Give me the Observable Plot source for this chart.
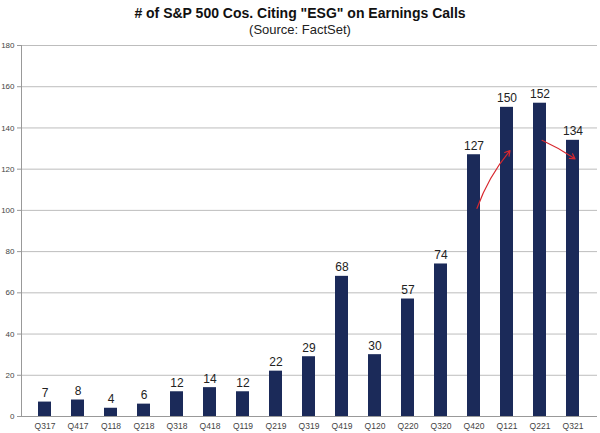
<!DOCTYPE html>
<html>
<head>
<meta charset="utf-8">
<script src="https://cdn.jsdelivr.net/npm/d3@7"></script>
<script src="https://cdn.jsdelivr.net/npm/@observablehq/plot@0.6"></script>
<style>
  html, body { margin: 0; padding: 0; background: #fff; }
  #wrap { width: 600px; height: 433px; font-family: "Liberation Sans", Arial, sans-serif; }
  #head { height: 38px; text-align: center; color: #111; }
  #title { font-size: 14px; font-weight: bold; line-height: 17px; padding-top: 5px; }
  #sub { font-size: 13px; line-height: 15px; color: #222; }
</style>
</head>
<body>
<div id="wrap">
  <div id="head">
    <div id="title"># of S&amp;P 500 Cos. Citing "ESG" on Earnings Calls</div>
    <div id="sub">(Source: FactSet)</div>
  </div>
  <div id="chart"></div>
</div>
<script>
const quarters = ["Q317","Q417","Q118","Q218","Q318","Q418","Q119","Q219","Q319","Q419","Q120","Q220","Q320","Q420","Q121","Q221","Q321"];
const counts = [7, 8, 4, 6, 12, 14, 12, 22, 29, 68, 30, 57, 74, 127, 150, 152, 134];
const yTicks = [0, 20, 40, 60, 80, 100, 120, 140, 160, 180];
const arrowFrom = ["Q420", "Q221"];
const arrowTo = ["Q121", "Q321"];
const arrowStart = [101, 134];
const arrowEnd = [129, 125];
const arrowBend = [10, 5];

const data = quarters.map((q, i) => ({q, v: counts[i]}));
const arrows = arrowFrom.map((a, i) => ({a, b: arrowTo[i], y1: arrowStart[i], y2: arrowEnd[i]}));

const plot = Plot.plot({
  width: 600,
  height: 395,
  marginTop: 7,
  marginBottom: 17,
  marginLeft: 21,
  marginRight: 3,
  style: {fontFamily: "Liberation Sans, Arial, sans-serif", background: "#fff"},
  x: {domain: quarters, paddingInner: 0.6, paddingOuter: 0.3, label: null},
  y: {domain: [0, 180], label: null},
  marks: [
    Plot.gridY(yTicks, {stroke: "#bdbdbd", strokeOpacity: 1, strokeWidth: 1}),
    Plot.axisY({ticks: yTicks, tickSize: 4, tickPadding: 3, fontSize: 8, fill: "#444", stroke: "#999", label: null}),
    Plot.axisX({tickSize: 0, tickPadding: 6, fontSize: 8.5, fill: "#444", label: null}),
    Plot.frame({anchor: "left", stroke: "#999"}),
    Plot.ruleY([0], {stroke: "#999"}),
    Plot.barY(data, {x: "q", y: "v", fill: "#1b2a59"}),
    Plot.text(data, {x: "q", y: "v", text: d => String(d.v), dy: -5, lineAnchor: "bottom", fontSize: 12, fill: "#222"}),
    Plot.arrow(arrows.slice(0, 1), {x1: "a", x2: "b", y1: "y1", y2: "y2", bend: arrowBend[0], dx: 3, stroke: "#d8282f", strokeWidth: 1.2, headLength: 7}),
    Plot.arrow(arrows.slice(1), {x1: "a", x2: "b", y1: "y1", y2: "y2", bend: arrowBend[1], dx: 2, stroke: "#d8282f", strokeWidth: 1.2, headLength: 7})
  ]
});
document.getElementById("chart").appendChild(plot);
</script>
</body>
</html>
